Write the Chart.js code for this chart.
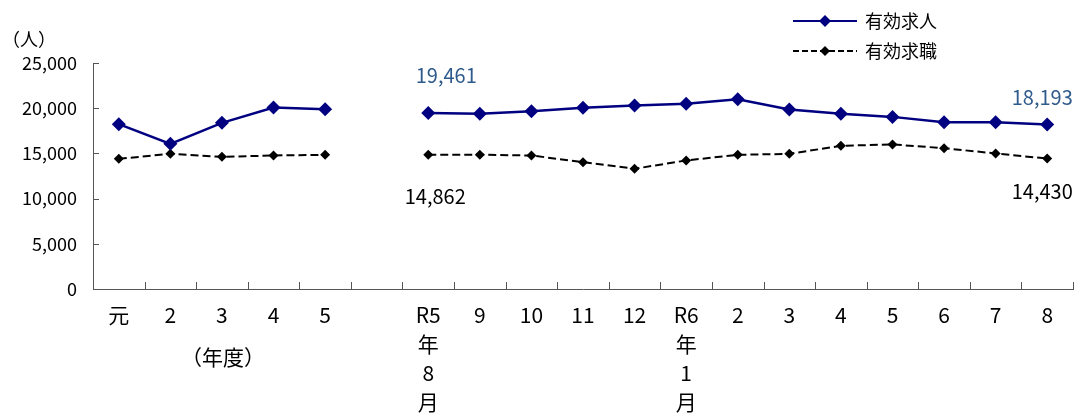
<!DOCTYPE html>
<html>
<head>
<meta charset="utf-8">
<script src="https://cdn.jsdelivr.net/npm/chart.js@4"></script>
<style>
  body { margin: 0; background: #fff; }
  #wrap { width: 1080px; height: 420px; position: relative; }
</style>
</head>
<body>
<div id="wrap"><canvas id="jobChart" width="1080" height="420"></canvas></div>
<script>
// カテゴリ（年度 + 空白 + 月次）
const labels = [
    '元', '2', '3', '4', '5', '',
    ['R5', '年', '8', '月'], '9', '10', '11', '12',
    ['R6', '年', '1', '月'], '2', '3', '4', '5', '6', '7', '8'
];
const kyujin = [18230, 16060, 18380, 20080, 19890, null,
    19461, 19380, 19670, 20040, 20300, 20480, 21000, 19850, 19380, 19040, 18450, 18450, 18193];
const kyushoku = [14400, 14950, 14620, 14770, 14840, null,
    14862, 14850, 14770, 14030, 13300, 14220, 14840, 14950, 15840, 15990, 15580, 14990, 14430];
const yTicks = [0, 5000, 10000, 15000, 20000, 25000];
const seriesNames = ['有効求人', '有効求職'];

const FONT = '"Noto Sans CJK JP", "Noto Sans", sans-serif';
const NAVY = '#000080';
const LABEL_BLUE = '#2F5B8C';
const AXIS = '#555555';

const fmt = v => v.toLocaleString('en-US');

// 軸の内向き目盛り・凡例・注記
const extras = {
    id: 'extras',
    afterDraw(chart) {
        const c = chart.ctx;
        const xs = chart.scales.x, ys = chart.scales.y;
        c.save();
        c.strokeStyle = AXIS;
        c.lineWidth = 1;
        const n = labels.length;
        const w = (xs.right - xs.left) / n;
        for (let i = 1; i <= n; i++) {
            const x = Math.round(xs.left + i * w) + 0.5;
            c.beginPath();
            c.moveTo(x, ys.bottom);
            c.lineTo(x, ys.bottom - 7);
            c.stroke();
        }
        yTicks.forEach(v => {
            const y = Math.round(ys.getPixelForValue(v)) + 0.5;
            c.beginPath();
            c.moveTo(xs.left, y);
            c.lineTo(xs.left + 6, y);
            c.stroke();
        });

        // 単位・年度
        c.fillStyle = '#000';
        c.font = '18px ' + FONT;
        c.textBaseline = 'middle';
        c.textAlign = 'left';
        c.fillText('（人）', 2, 39);
        c.textAlign = 'center';
        c.font = '21px ' + FONT;
        c.fillText('（年度）', 223, 357);

        // 凡例
        const legendRows = [
            { y: 21, color: NAVY, dash: [], r: 6, text: seriesNames[0] },
            { y: 51, color: '#000', dash: [6, 3], r: 5, text: seriesNames[1] }
        ];
        legendRows.forEach(row => {
            c.strokeStyle = row.color;
            c.lineWidth = 2;
            c.setLineDash(row.dash);
            c.beginPath();
            c.moveTo(793, row.y);
            c.lineTo(857, row.y);
            c.stroke();
            c.setLineDash([]);
            c.fillStyle = row.color;
            c.beginPath();
            c.moveTo(825 - row.r, row.y);
            c.lineTo(825, row.y - row.r);
            c.lineTo(825 + row.r, row.y);
            c.lineTo(825, row.y + row.r);
            c.closePath();
            c.fill();
            c.fillStyle = '#000';
            c.textAlign = 'left';
            c.font = '18px ' + FONT;
            c.fillText(row.text, 865, row.y);
        });

        // 数値注記
        c.font = '20px ' + FONT;
        c.textAlign = 'center';
        const notes = [
            { i: 6, data: kyujin, dx: 18, dy: -38, color: LABEL_BLUE },
            { i: 6, data: kyushoku, dx: 7, dy: 42, color: '#000' },
            { i: 18, data: kyujin, dx: -5, dy: -27, color: LABEL_BLUE },
            { i: 18, data: kyushoku, dx: -5, dy: 33, color: '#000' }
        ];
        notes.forEach(nt => {
            const x = xs.getPixelForValue(nt.i);
            const y = ys.getPixelForValue(nt.data[nt.i]);
            c.fillStyle = nt.color;
            c.fillText(fmt(nt.data[nt.i]), x + nt.dx, y + nt.dy);
        });
        c.restore();
    }
};

const ctx = document.getElementById('jobChart').getContext('2d');
const jobChart = new Chart(ctx, {
    type: 'line',
    data: {
        labels: labels,
        datasets: [{
            label: seriesNames[0],
            data: kyujin,
            borderColor: NAVY,
            backgroundColor: NAVY,
            borderWidth: 2.5,
            pointStyle: 'rectRot',
            pointRadius: 7,
            pointBorderWidth: 0,
            spanGaps: false,
            fill: false
        }, {
            label: seriesNames[1],
            data: kyushoku,
            borderColor: '#000',
            backgroundColor: '#000',
            borderWidth: 2,
            borderDash: [8, 4],
            pointStyle: 'rectRot',
            pointRadius: 5,
            pointBorderWidth: 0,
            spanGaps: false,
            fill: false
        }]
    },
    options: {
        responsive: false,
        animation: false,
        devicePixelRatio: 1,
        layout: { padding: { top: 63, right: 4, left: 0, bottom: 0 } },
        plugins: {
            legend: { display: false },
            tooltip: { enabled: false }
        },
        scales: {
            x: {
                offset: true,
                grid: { display: false, drawTicks: false },
                border: { display: true, color: AXIS, width: 1 },
                ticks: {
                    autoSkip: false,
                    maxRotation: 0,
                    padding: 12,
                    color: '#000',
                    font: { family: FONT, size: 21, lineHeight: 1.38 }
                },
                afterFit(scale) { scale.height = 131; }
            },
            y: {
                min: 0,
                max: 25000,
                grid: { display: false, drawTicks: false },
                border: { display: true, color: AXIS, width: 1 },
                afterBuildTicks(scale) { scale.ticks = yTicks.map(v => ({ value: v })); },
                ticks: {
                    padding: 16,
                    color: '#000',
                    font: { family: FONT, size: 18 },
                    callback: v => fmt(v)
                },
                afterFit(scale) { scale.width = 93; }
            }
        }
    },
    plugins: [extras]
});
</script>
</body>
</html>
